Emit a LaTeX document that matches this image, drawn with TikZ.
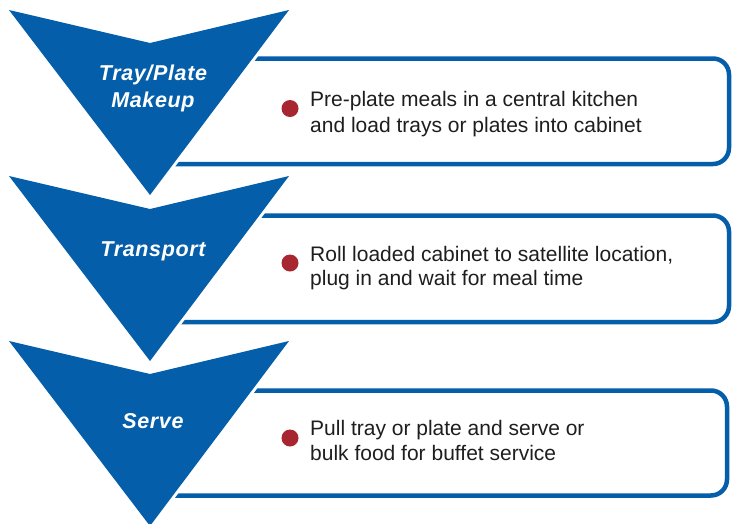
\documentclass[tikz,border=0pt]{standalone}
\usepackage{fontspec}
\setmainfont{Liberation Sans}
\newfontfamily\titlefont[LetterSpace=3]{Liberation Sans}
\definecolor{chevblue}{RGB}{4,94,170}
\definecolor{dotred}{RGB}{168,38,48}
\definecolor{bodytext}{RGB}{30,30,30}
\begin{document}
\begin{tikzpicture}[x=1pt,y=-1pt,
  stepbox/.style={draw=chevblue,line width=4.5pt,rounded corners=16pt,fill=white},
  chevhalo/.style={draw=white,line width=6pt,line join=miter},
  chevfill/.style={fill=chevblue},
  title/.style={text=white,font=\titlefont\fontsize{21.5}{28}\selectfont\bfseries\itshape,inner sep=0pt,anchor=base},
  body/.style={text=bodytext,font=\fontsize{21}{26}\selectfont,inner sep=0pt,anchor=base west},
  dot/.style={circle,fill=dotred,minimum size=17pt,inner sep=0pt}
]
\useasboundingbox (0,0) rectangle (732,523);
% boxes
\draw[stepbox] (150,58.5) rectangle (729,164);
\draw[stepbox] (150,215.5) rectangle (729,322);
\draw[stepbox] (150,390.5) rectangle (727,495.5);
% chevrons
\foreach \y in {10,176,341}{
  \draw[chevhalo] (9,\y) -- (150,\y+33) -- (289,\y) -- (150,\y+185) -- cycle;
  \fill[chevfill] (9,\y) -- (150,\y+33) -- (289,\y) -- (150,\y+185) -- cycle;
}
% titles
\node[title] (t1a) at (153,80.5) {Tray/Plate};
\node[title] (t1b) at (153,107.5) {Makeup};
\node[title] (t2) at (153,256) {Transport};
\node[title] (t3) at (153,428) {Serve};
% bullets
\node[dot] (d1) at (290,108.5) {};
\node[dot] (d2) at (290,263) {};
\node[dot] (d3) at (290,438) {};
% body text
\node[body] (b1a) at (310,106.5) {Pre-plate meals in a central kitchen};
\node[body] (b1b) at (310,132) {and load trays or plates into cabinet};
\node[body] (b2a) at (310,261) {Roll loaded cabinet to satellite location,};
\node[body] (b2b) at (310,285.5) {plug in and wait for meal time};
\node[body] (b3a) at (310,435) {Pull tray or plate and serve or};
\node[body] (b3b) at (310,460) {bulk food for buffet service};
\end{tikzpicture}
\end{document}
